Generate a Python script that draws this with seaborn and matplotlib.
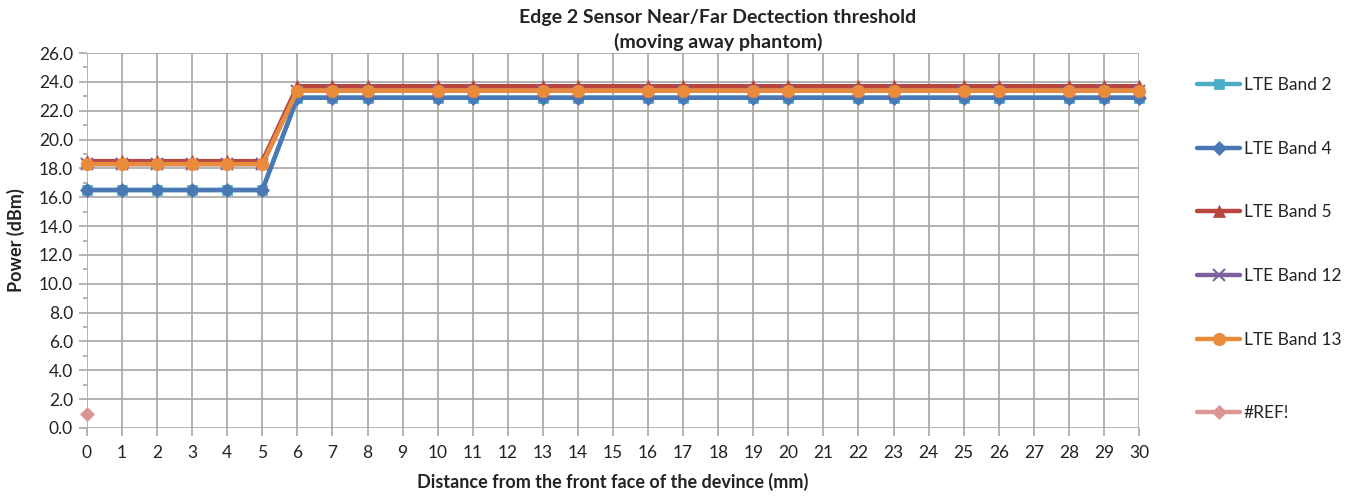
import numpy as np
import pandas as pd
import matplotlib
matplotlib.use('Agg')
import matplotlib.pyplot as plt
import seaborn as sns
from matplotlib.ticker import MultipleLocator, FormatStrFormatter

# distances (mm) where measurements were taken
distance = [0, 1, 2, 3, 4, 5, 6, 7, 8, 10, 11, 13, 14, 16, 17, 19, 20, 22, 23, 25, 26, 28, 29, 30]
n_far = len(distance) - 6

band2 = [16.5] * 6 + [22.9] * n_far
band4 = [16.5] * 6 + [22.9] * n_far
band5 = [18.5] * 6 + [23.7] * n_far
band12 = [18.3] * 6 + [23.4] * n_far
band13 = [18.3] * 6 + [23.4] * n_far
ref_x = [0]
ref_y = [1.0]

series = [
    ('LTE Band 2', distance, band2, '#4BACC6', 's', 7),
    ('LTE Band 4', distance, band4, '#4A78B4', 'D', 7),
    ('LTE Band 5', distance, band5, '#B8463F', '^', 8),
    ('LTE Band 12', distance, band12, '#7D60A0', 'x', 8),
    ('LTE Band 13', distance, band13, '#EA8B3C', 'o', 9),
    ('#REF!', ref_x, ref_y, '#D99694', 'D', 7),
]

sns.set_style('white')
plt.rcParams['font.family'] = ['Lato', 'DejaVu Sans']

fig = plt.figure(figsize=(13.49, 4.96), dpi=100)
ax = fig.add_axes([87 / 1349, 1 - 428 / 496, (1139 - 87) / 1349, (428 - 53) / 496])

for name, xs, ys, col, mk, ms in series:
    df = pd.DataFrame({'x': xs, 'y': ys})
    sns.lineplot(data=df, x='x', y='y', ax=ax, color=col, marker=mk, markersize=ms,
                 linewidth=3.2, markeredgecolor=col, markeredgewidth=1.5 if mk == 'x' else 0.5,
                 label=name, zorder=3, clip_on=False)

ax.set_xlim(0, 30)
ax.set_ylim(0, 26)
ax.xaxis.set_major_locator(MultipleLocator(1))
ax.yaxis.set_major_locator(MultipleLocator(2))
ax.yaxis.set_minor_locator(MultipleLocator(1))
ax.yaxis.set_major_formatter(FormatStrFormatter('%.1f'))
ax.grid(True, which='major', color='#A6A6A6', linewidth=1.2)
ax.set_axisbelow(True)
for side in ['top', 'right', 'bottom', 'left']:
    ax.spines[side].set_visible(False)
ax.tick_params(axis='both', which='major', direction='out', length=6, color='#A6A6A6',
               width=1.2, labelsize=12.5, labelcolor='#222222', pad=4)
ax.tick_params(axis='y', which='minor', direction='out', length=3, color='#A6A6A6', width=1.2, left=True)
ax.tick_params(axis='x', bottom=True, pad=6)
ax.tick_params(axis='y', left=True)

ax.set_xlabel('Distance from the front face of the devince (mm)', fontsize=13,
              fontweight='bold', labelpad=9, color='#222222')
ax.set_ylabel('Power (dBm)', fontsize=13, fontweight='bold', labelpad=10, color='#222222')

fig.text(718 / 1349, 1 - 17 / 496, 'Edge 2 Sensor Near/Far Dectection threshold',
         ha='center', va='center', fontsize=14, fontweight='bold', color='#222222')
fig.text(718 / 1349, 1 - 42 / 496, '(moving away phantom)',
         ha='center', va='center', fontsize=14, fontweight='bold', color='#222222')

handles, labels = ax.get_legend_handles_labels()
leg = ax.legend(handles[:5], labels[:5], loc='upper left',
                bbox_to_anchor=((1190 - 87) / 1052, 1.0 - 17 / 375),
                frameon=False, fontsize=12.5, handlelength=2.5, handletextpad=0.2,
                labelspacing=2.75, borderaxespad=0)
for t in leg.get_texts():
    t.set_color('#222222')
ax.add_artist(leg)
leg2 = ax.legend(handles[5:], labels[5:], loc='center left',
                 bbox_to_anchor=((1190 - 87) / 1052, (428 - 413) / 375),
                 frameon=False, fontsize=12.5, handlelength=2.5, handletextpad=0.2,
                 borderaxespad=0)
for t in leg2.get_texts():
    t.set_color('#222222')

plt.savefig('out.png', dpi=100)
